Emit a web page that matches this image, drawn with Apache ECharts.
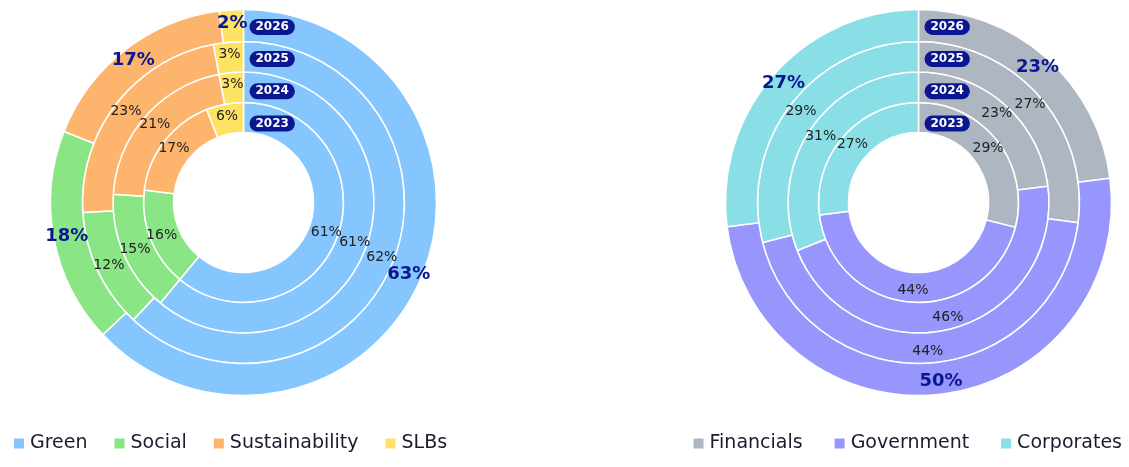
<!DOCTYPE html>
<html>
<head>
<meta charset="utf-8">
<script src="https://cdn.jsdelivr.net/npm/echarts@6/dist/echarts.min.js"></script>
<style>
  html, body { margin: 0; padding: 0; background: #fff; }
  #chart { width: 1129px; height: 467px; }
</style>
</head>
<body>
<div id="chart"></div>
<script>
// years, inner ring first
var years = ['2023', '2024', '2025', '2026'];

// left donut: use of proceeds
var leftNames = ['Green', 'Social', 'Sustainability', 'SLBs'];
var green = [61, 61, 62, 63];
var social = [16, 15, 12, 18];
var sustainability = [17, 21, 23, 17];
var slbs = [6, 3, 3, 2];

// right donut: issuer type
var rightNames = ['Financials', 'Government', 'Corporates'];
var financials = [29, 23, 27, 23];
var government = [44, 46, 44, 50];
var corporates = [27, 31, 29, 27];

var leftColors = ['#86c6fe', '#8ae584', '#fdb46c', '#fee264'];
var rightColors = ['#aeb7c1', '#9696fd', '#8adfe7'];
var navy = '#0b1790';
var font = 'DejaVu Sans';

var rings = [[70, 100], [100, 130.5], [130.5, 161], [161, 193]];
var leftCenter = [243.5, 202.5];
var rightCenter = [918.5, 202.5];

var chart = echarts.init(document.getElementById('chart'));

function makeRings(names, cols, colors, center, prefix) {
    var list = [];
    for (var i = 0; i < years.length; i++) {
        var last = i === years.length - 1;
        var data = [];
        for (var j = 0; j < names.length; j++) {
            data.push({ name: names[j], value: cols[j][i], itemStyle: { color: colors[j] } });
        }
        list.push({
            name: prefix + years[i],
            type: 'pie',
            center: center,
            radius: rings[i],
            startAngle: 90,
            clockwise: true,
            silent: true,
            animation: false,
            avoidLabelOverlap: false,
            itemStyle: { borderColor: '#fff', borderWidth: 1.5 },
            label: {
                show: true,
                position: 'inside',
                formatter: '{c}%',
                fontFamily: font,
                fontSize: last ? 18 : 14,
                fontWeight: last ? 'bold' : 'normal',
                color: last ? navy : '#222'
            },
            labelLayout: { hideOverlap: false },
            labelLine: { show: false },
            data: data
        });
    }
    return list;
}

// year pills along the 12 o'clock line
function badges(center) {
    var out = [];
    for (var i = 0; i < years.length; i++) {
        out.push({
            type: 'text',
            x: center[0] + 6,
            y: center[1] - 79 - 32.2 * i,
            z: 100,
            silent: true,
            style: {
                text: years[i],
                fill: '#fff',
                font: 'bold 12px ' + font,
                verticalAlign: 'middle',
                align: 'left',
                backgroundColor: navy,
                padding: [2, 6, 2, 6],
                borderRadius: 9
            }
        });
    }
    return out;
}

var series = []
    .concat(makeRings(leftNames, [green, social, sustainability, slbs], leftColors, leftCenter, 'L'))
    .concat(makeRings(rightNames, [financials, government, corporates], rightColors, rightCenter, 'R'));

var legendText = { fontFamily: font, fontSize: 19, color: '#1c1c2e' };

chart.setOption({
    animation: false,
    legend: [
        {
            data: leftNames,
            left: 12,
            top: 434,
            padding: 0,
            icon: 'rect',
            itemWidth: 12,
            itemHeight: 12,
            itemGap: 25,
            textStyle: legendText
        },
        {
            data: rightNames,
            right: 7,
            top: 434,
            padding: 0,
            icon: 'rect',
            itemWidth: 12,
            itemHeight: 12,
            itemGap: 30,
            textStyle: legendText
        }
    ],
    series: series,
    graphic: badges(leftCenter).concat(badges(rightCenter))
});
</script>
</body>
</html>
